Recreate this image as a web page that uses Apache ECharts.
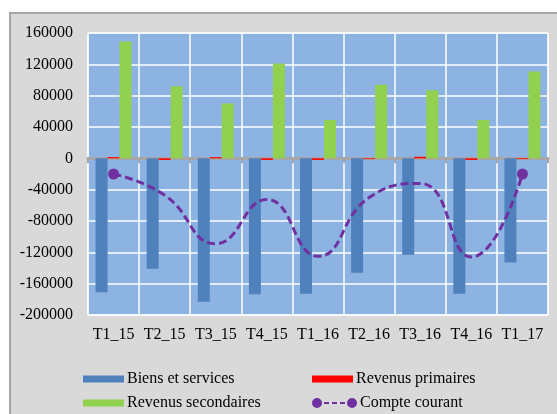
<!DOCTYPE html>
<html>
<head>
<meta charset="utf-8">
<script src="https://cdn.jsdelivr.net/npm/echarts@6.0.0/dist/echarts.min.js"></script>
<style>
  html, body { margin: 0; padding: 0; background: #fff; }
  #main { width: 557px; height: 414px; }
</style>
</head>
<body>
<div id="main"></div>
<script>
// données
const categories = ["T1_15", "T2_15", "T3_15", "T4_15", "T1_16", "T2_16", "T3_16", "T4_16", "T1_17"];
const biens = [-171000, -141000, -183000, -173500, -173000, -146000, -123000, -173000, -133000];
const revPrimaires = [1500, -2000, 1500, -2000, -2000, -1000, 2000, -2000, -1000];
const revSecondaires = [149000, 92000, 70000, 121000, 49000, 94000, 87000, 49000, 111000];
const compte = [-20000, -47000, -109000, -52500, -125000, -50000, -32000, -126000, -20000];

const font = "Liberation Serif";
const txt = { fontFamily: font, fontSize: 16, color: "#000" };

const chart = echarts.init(document.getElementById("main"));

// seuls le premier et le dernier point ont un marqueur
const compteData = compte.map((v, i) => ({
  value: v,
  symbol: (i === 0 || i === compte.length - 1) ? "circle" : "none"
}));

const lineIcon = "path://M0,5a5,5 0 1,0 10,0a5,5 0 1,0 -10,0z M12,4h5v2h-5z M20,4h5v2h-5z M28,4h5v2h-5z M35,5a5,5 0 1,0 10,0a5,5 0 1,0 -10,0z";

function legend(name, left, top, w, h, icon) {
  return {
    data: [icon ? { name: name, icon: icon } : name],
    left: left, top: top,
    itemWidth: w, itemHeight: h, itemGap: 0,
    textStyle: Object.assign({ padding: [0, 0, 0, -2] }, txt),
    selectedMode: false
  };
}

chart.setOption({
  animation: false,
  backgroundColor: "#fff",
  graphic: [{
    type: "rect", z: -10, silent: true,
    shape: { x: 10, y: 13, width: 560, height: 420 },
    style: { fill: "#D9D9D9", stroke: "#A6A6A6", lineWidth: 2 }
  }],
  legend: [
    legend("Biens et services", 78, 366, 41, 7, "rect"),
    legend("Revenus secondaires", 78, 390, 41, 7, "rect"),
    legend("Revenus primaires", 307, 366, 41, 7, "rect"),
    legend("Compte courant", 307, 390, 45, 10, lineIcon)
  ],
  grid: {
    left: 88, right: 9, top: 33, bottom: 99,
    show: true, backgroundColor: "#8DB3E2", borderColor: "#fff", borderWidth: 1
  },
  xAxis: [{
    type: "category", data: categories,
    axisLine: { onZero: true, lineStyle: { color: "#A6A6A6", width: 3 } },
    axisTick: { show: true, length: 5, lineStyle: { color: "#A6A6A6", width: 2 } },
    axisLabel: { show: false },
    splitLine: { show: true, lineStyle: { color: "#fff", width: 1.5 } }
  }, {
    type: "category", data: categories, position: "bottom",
    axisLine: { show: false, onZero: false },
    axisTick: { show: false },
    axisLabel: Object.assign({ margin: 12, interval: 0 }, txt)
  }],
  yAxis: {
    type: "value", min: -200000, max: 160000, interval: 40000,
    axisLine: { show: false }, axisTick: { show: false },
    axisLabel: Object.assign({ margin: 15, formatter: v => String(v) }, txt),
    splitLine: { lineStyle: { color: "#fff", width: 1.5 } }
  },
  series: [
    { name: "Biens et services", type: "bar", data: biens, barWidth: 12, barGap: "0%",
      itemStyle: { color: "#4F81BD" } },
    { name: "Revenus primaires", type: "bar", data: revPrimaires, barWidth: 12,
      itemStyle: { color: "#FF0000" } },
    { name: "Revenus secondaires", type: "bar", data: revSecondaires, barWidth: 12,
      itemStyle: { color: "#92D050" } },
    { name: "Compte courant", type: "line", data: compteData, smooth: 0.5,
      symbol: "circle", symbolSize: 11, z: 5,
      itemStyle: { color: "#7030A0" },
      lineStyle: { color: "#7030A0", width: 3, type: [8, 4] } }
  ]
});
</script>
</body>
</html>
